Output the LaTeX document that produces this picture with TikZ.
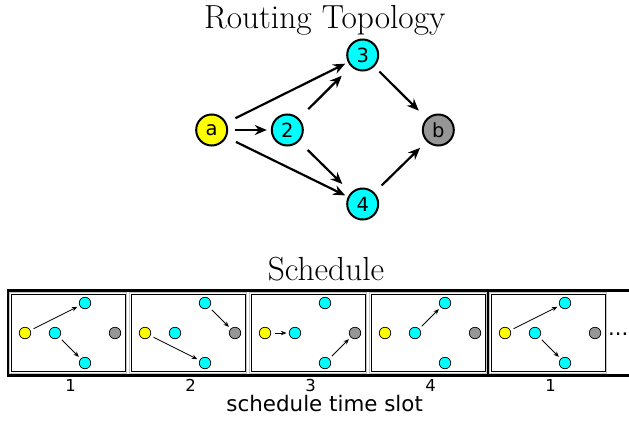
\documentclass[tikz,border=0pt]{standalone}
\usepackage{fontspec}
\newfontfamily\dejavu{DejaVu Sans}
\usetikzlibrary{arrows.meta}
\definecolor{ncyan}{RGB}{0,255,255}
\definecolor{nyellow}{RGB}{255,255,0}
\definecolor{ngray}{RGB}{150,150,150}
\begin{document}
\begin{tikzpicture}[x=1pt,y=-1pt,
 big/.style={circle,draw,line width=2pt,minimum size=31pt,inner sep=0pt,font=\dejavu\fontsize{19.5}{19.5}\selectfont},
 arr/.style={-{Stealth[length=12pt,width=10pt]},line width=2.2pt},
 small/.style={circle,draw,line width=0.7pt,minimum size=11.5pt,inner sep=0pt},
 sarr/.style={-{Stealth[length=5.5pt,width=4.5pt]},line width=0.8pt,shorten <=3.5pt,shorten >=2.5pt},
 slotbox/.style={draw,line width=0.8pt,fill=white},
 title/.style={anchor=base,inner sep=0pt,font=\fontsize{33.4}{33.4}\selectfont},
 lab/.style={anchor=base,inner sep=0pt,font=\dejavu\fontsize{16.5}{16.5}\selectfont},
]
\useasboundingbox[fill=white] (0,0) rectangle (629,421);

% ---------- Routing topology ----------
\node[title] (t1) at (324.7,28.3) {Routing Topology};
\node[big,fill=nyellow] (a) at (211.7,130) {a};
\node[big,fill=ncyan] (n2) at (287.3,130) {2};
\node[big,fill=ncyan] (n3) at (362.7,55) {3};
\node[big,fill=ncyan] (n4) at (362.7,204) {4};
\node[big,fill=ngray] (b) at (438.3,130) {b};

\draw[arr,shorten <=7pt,shorten >=4pt] (a) -- (n2);
\draw[arr,shorten <=10pt,shorten >=3pt] (a) -- (n3);
\draw[arr,shorten <=10.5pt,shorten >=3pt] (a) -- (n4);
\draw[arr,shorten <=13pt,shorten >=13pt] (n2) -- (n3);
\draw[arr,shorten <=12pt,shorten >=12pt] (n2) -- (n4);
\draw[arr,shorten <=7pt,shorten >=11pt] (n3) -- (b);
\draw[arr,shorten <=10pt,shorten >=9pt] (n4) -- (b);

% ---------- Schedule ----------
\node[title] (t2) at (326,280) {Schedule};

\draw[line width=3pt] (629,290.5) -- (8.7,290.5) -- (8.7,375) -- (629,375);
\draw[line width=3pt] (487.8,290.5) -- (487.8,375);

\foreach \i/\x/\l in {1/11/1,2/131/2,3/251/3,4/371/4,5/491/1}{
  \draw[gray!45,line width=0.5pt] (\x-1.6,292.4) rectangle (\x+115.6,372.9);
  \draw[slotbox] (\x,294) rectangle (\x+114,371);
  \node[small,fill=nyellow] (s\i-a) at (\x+14,333) {};
  \node[small,fill=ncyan] (s\i-2) at (\x+44,333) {};
  \node[small,fill=ncyan] (s\i-3) at (\x+74,303) {};
  \node[small,fill=ncyan] (s\i-4) at (\x+74,363) {};
  \node[small,fill=ngray] (s\i-b) at (\x+104,333) {};
  \node[lab] (l\i) at (\x+59.5,391.7) {\l};
}

\draw[sarr] (s1-a) -- (s1-3);
\draw[sarr] (s1-2) -- (s1-4);
\draw[sarr] (s2-3) -- (s2-b);
\draw[sarr] (s2-a) -- (s2-4);
\draw[sarr] (s3-a) -- (s3-2);
\draw[sarr] (s3-4) -- (s3-b);
\draw[sarr] (s4-2) -- (s4-3);
\draw[sarr] (s5-a) -- (s5-3);
\draw[sarr] (s5-2) -- (s5-4);

\node[anchor=base west,inner sep=0pt,font=\dejavu\fontsize{21}{21}\selectfont] (dots) at (608,335.5) {...};

\node[anchor=base,inner sep=0pt,font=\dejavu\fontsize{21.4}{21.4}\selectfont] (xl) at (324.7,411.7) {schedule time slot};
\end{tikzpicture}
\end{document}
